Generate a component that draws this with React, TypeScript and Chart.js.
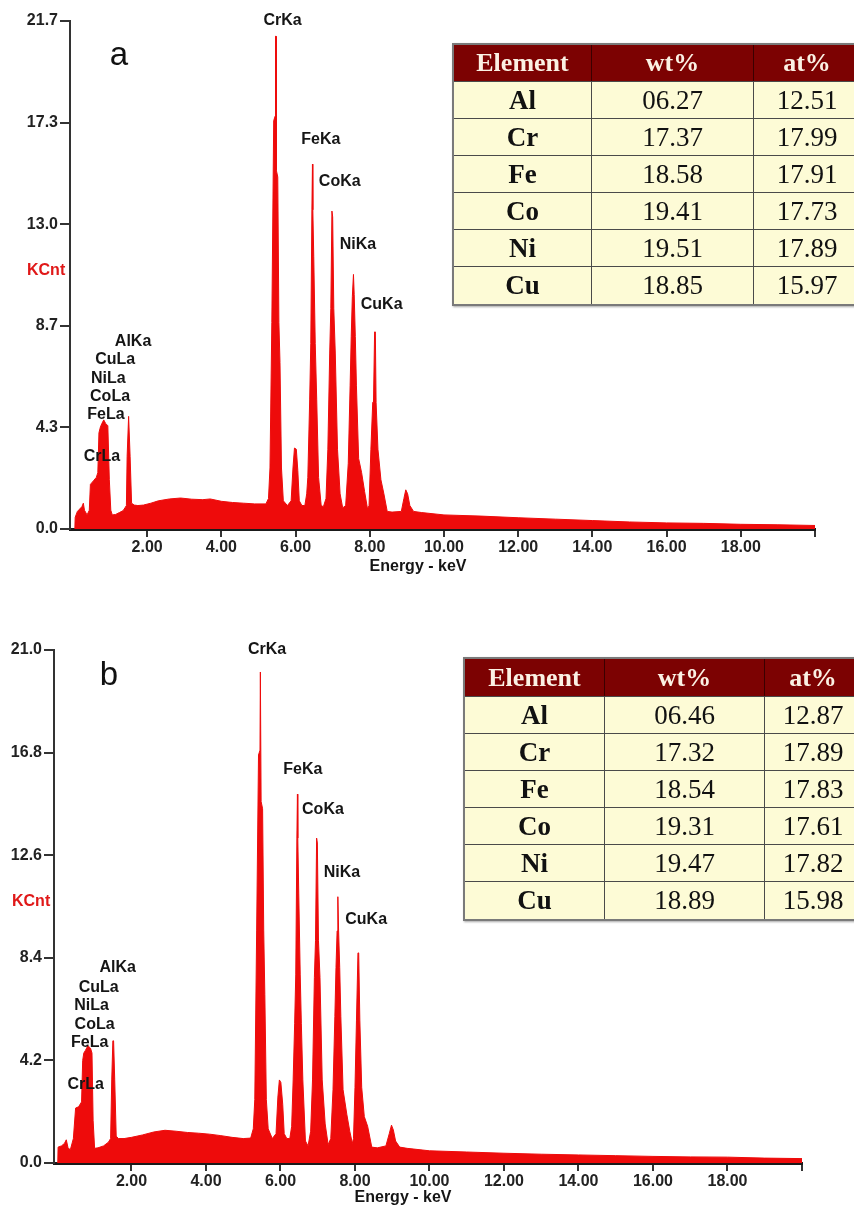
import React, { useEffect, useRef } from "react";
import { Chart, registerables } from "chart.js";

Chart.register(...registerables);

// ---------- Spectrum a ----------
const energyA = [
  0.05, 0.06, 0.12, 0.18, 0.24, 0.28, 0.31, 0.38, 0.44, 0.47, 0.55, 0.63, 0.67, 0.70, 0.74, 0.78, 0.83, 0.88,
  0.94, 0.98, 1.02, 1.06, 1.15, 1.25, 1.35, 1.40, 1.44, 1.46, 1.50, 1.51, 1.54, 1.58, 1.65, 1.75, 1.90, 2.10,
  2.30, 2.60, 2.90, 3.20, 3.50, 3.70, 4.00, 4.30, 4.60, 4.90, 5.20, 5.27, 5.31, 5.36, 5.41, 5.45, 5.46, 5.475,
  5.48, 5.52, 5.55, 5.58, 5.62, 5.67, 5.78, 5.88, 5.93, 5.97, 6.02, 6.06, 6.10, 6.17, 6.25, 6.30, 6.33, 6.38,
  6.41, 6.44, 6.455, 6.465, 6.49, 6.53, 6.57, 6.62, 6.69, 6.75, 6.82, 6.87, 6.92, 6.95, 6.98, 7.00, 7.03, 7.07,
  7.13, 7.20, 7.27, 7.35, 7.42, 7.47, 7.50, 7.53, 7.56, 7.58, 7.61, 7.64, 7.70, 7.78, 7.86, 7.94, 7.98, 8.03,
  8.08, 8.10, 8.13, 8.15, 8.17, 8.22, 8.30, 8.38, 8.47, 8.60, 8.85, 8.92, 8.97, 9.02, 9.08, 9.18, 9.40, 10.0,
  11.0, 12.0, 13.0, 14.0, 15.0, 16.0, 17.0, 18.0, 19.0, 20.0,
];
const countsA = [
  0.0, 0.5, 0.75, 0.85, 0.95, 1.1, 0.8, 0.6, 0.8, 1.9, 2.05, 2.2, 2.4, 4.1, 4.35, 4.5, 4.65, 4.5,
  4.4, 2.1, 0.8, 0.6, 0.62, 0.7, 0.78, 0.9, 1.0, 3.1, 4.8, 4.8, 3.1, 1.1, 1.02, 1.0, 1.02, 1.1,
  1.2, 1.28, 1.32, 1.27, 1.25, 1.28, 1.18, 1.13, 1.1, 1.07, 1.07, 1.3, 2.6, 8.8, 17.4, 17.6, 21.0, 21.0,
  15.3, 15.0, 8.8, 7.1, 2.6, 1.2, 1.0, 1.2, 2.6, 3.45, 3.4, 2.5, 1.2, 1.0, 1.0, 1.5, 2.2, 5.5,
  7.9, 13.6, 15.55, 13.6, 11.6, 7.9, 5.5, 2.2, 1.0, 0.95, 1.3, 3.4, 7.5, 9.4, 13.55, 13.3, 9.4, 7.5,
  3.4, 1.5, 0.9, 1.0, 2.8, 6.1, 8.2, 9.9, 10.85, 10.0, 8.2, 6.1, 3.0, 2.4, 1.6, 0.85, 1.0, 3.4,
  5.4, 5.4, 8.4, 8.4, 5.4, 3.4, 2.1, 1.5, 0.75, 0.72, 0.75, 1.3, 1.67, 1.5, 1.0, 0.75, 0.7, 0.6,
  0.55, 0.48, 0.42, 0.36, 0.3, 0.26, 0.24, 0.2, 0.18, 0.15,
];

// ---------- Spectrum b ----------
const energyB = [
  0.02, 0.03, 0.12, 0.20, 0.25, 0.30, 0.36, 0.44, 0.50, 0.58, 0.66, 0.69, 0.72, 0.76, 0.83, 0.90, 0.94,
  0.97, 1.01, 1.10, 1.25, 1.38, 1.44, 1.47, 1.50, 1.52, 1.55, 1.59, 1.65, 1.80, 2.00, 2.30, 2.60, 2.90,
  3.20, 3.50, 3.80, 4.10, 4.40, 4.70, 5.00, 5.20, 5.27, 5.31, 5.36, 5.41, 5.45, 5.46, 5.475, 5.48, 5.52,
  5.55, 5.58, 5.62, 5.67, 5.78, 5.88, 5.93, 5.97, 6.01, 6.06, 6.10, 6.17, 6.25, 6.30, 6.34, 6.38, 6.41,
  6.44, 6.455, 6.465, 6.49, 6.53, 6.56, 6.60, 6.67, 6.74, 6.81, 6.86, 6.91, 6.94, 6.97, 6.99, 7.02, 7.06,
  7.12, 7.20, 7.28, 7.35, 7.41, 7.46, 7.49, 7.52, 7.54, 7.56, 7.59, 7.62, 7.68, 7.78, 7.86, 7.93, 7.96,
  8.00, 8.04, 8.08, 8.10, 8.13, 8.18, 8.25, 8.34, 8.45, 8.60, 8.83, 8.92, 8.98, 9.03, 9.09, 9.20, 9.40,
  10.0, 11.0, 12.0, 13.0, 14.0, 15.0, 16.0, 17.0, 18.0, 19.0, 20.0,
];
const countsB = [
  0.0, 0.65, 0.7, 0.8, 0.95, 0.6, 0.55, 1.0, 2.25, 2.3, 2.5, 4.2, 4.5, 4.6, 4.8, 4.7, 4.5,
  1.75, 0.6, 0.62, 0.7, 0.85, 1.0, 3.4, 5.0, 5.0, 3.4, 1.1, 1.0, 1.0, 1.05, 1.15, 1.27, 1.34,
  1.3, 1.25, 1.22, 1.18, 1.12, 1.05, 1.0, 1.02, 1.4, 2.6, 9.5, 16.7, 16.9, 20.1, 20.1, 14.8, 14.5,
  9.5, 6.9, 2.6, 1.4, 1.0, 1.2, 2.7, 3.4, 3.3, 2.4, 1.2, 1.0, 1.0, 1.5, 3.4, 5.7, 7.7,
  13.3, 15.1, 13.3, 11.05, 7.7, 5.7, 3.4, 0.9, 0.7, 1.3, 3.4, 7.6, 9.1, 13.3, 13.1, 9.1, 7.6,
  3.4, 1.6, 0.75, 1.0, 3.0, 6.0, 8.0, 9.5, 10.9, 9.5, 8.0, 6.0, 3.0, 2.0, 1.3, 0.8, 1.0,
  3.1, 5.85, 8.6, 8.6, 5.85, 3.1, 1.9, 1.5, 0.65, 0.62, 0.7, 1.2, 1.55, 1.35, 0.9, 0.65, 0.6,
  0.5, 0.45, 0.4, 0.36, 0.33, 0.3, 0.27, 0.25, 0.24, 0.2, 0.18,
];

// ---------- Axes ----------
const yMaxA = 21.65;
const yMaxB = 21.0;
const yTickLabelsA = ["0.0", "4.3", "8.7", "13.0", "17.3", "21.7"];
const yTickLabelsB = ["0.0", "4.2", "8.4", "12.6", "16.8", "21.0"];
const xTickValues = [2, 4, 6, 8, 10, 12, 14, 16, 18, 20];
const xTickLabels = ["2.00", "4.00", "6.00", "8.00", "10.00", "12.00", "14.00", "16.00", "18.00", ""];

// ---------- Peak labels ----------
const peakNames = ["CrKa", "FeKa", "CoKa", "NiKa", "CuKa", "AlKa", "CuLa", "NiLa", "CoLa", "FeLa", "CrLa"];
const peakKevA = [5.65, 6.68, 7.19, 7.68, 8.32, 1.62, 1.14, 0.95, 1.0, 0.89, 0.78];
const peakCountA = [21.67, 16.6, 14.8, 12.1, 9.57, 7.99, 7.22, 6.41, 5.64, 4.87, 3.08];
const peakKevB = [5.64, 6.6, 7.14, 7.65, 8.3, 1.63, 1.12, 0.93, 1.01, 0.88, 0.77];
const peakCountB = [21.0, 16.1, 14.45, 11.9, 9.95, 7.98, 7.16, 6.43, 5.65, 4.91, 3.19];

// ---------- Tables ----------
const tableHeaders = ["Element", "wt%", "at%"];
const elements = ["Al", "Cr", "Fe", "Co", "Ni", "Cu"];
const wtA = ["06.27", "17.37", "18.58", "19.41", "19.51", "18.85"];
const atA = ["12.51", "17.99", "17.91", "17.73", "17.89", "15.97"];
const wtB = ["06.46", "17.32", "18.54", "19.31", "19.47", "18.89"];
const atB = ["12.87", "17.89", "17.83", "17.61", "17.82", "15.98"];

const RED = "#ee0b0b";
const SANS = '"Liberation Sans", Arial, Helvetica, sans-serif';
const SERIF = '"Liberation Serif", "Times New Roman", serif';

type Geo = {
  top: number;
  height: number;
  padTop: number;
  padRight: number;
  yAxisWidth: number;
  xAxisHeight: number;
  kcnt: [number, number];
  title: [number, number];
  letterPos: [number, number];
};

function Spectrum(props: {
  energy: number[];
  counts: number[];
  yMax: number;
  yTickLabels: string[];
  peakKev: number[];
  peakCount: number[];
  letter: string;
  geo: Geo;
}) {
  const ref = useRef<HTMLCanvasElement | null>(null);
  useEffect(() => {
    const { energy, counts, yMax, yTickLabels, peakKev, peakCount, letter, geo } = props;
    const annot = {
      id: "annot",
      afterDraw(chart: any) {
        const ctx = chart.ctx;
        const xs = chart.scales.x;
        const ys = chart.scales.y;
        ctx.save();
        ctx.fillStyle = "#151515";
        ctx.font = `bold 16px ${SANS}`;
        ctx.textAlign = "center";
        ctx.textBaseline = "middle";
        peakNames.forEach((n, i) => {
          ctx.fillText(n, xs.getPixelForValue(peakKev[i]), ys.getPixelForValue(peakCount[i]));
        });
        ctx.fillText("Energy - keV", geo.title[0], geo.title[1]);
        ctx.fillStyle = "#e01818";
        ctx.textAlign = "left";
        ctx.fillText("KCnt", geo.kcnt[0], geo.kcnt[1]);
        ctx.fillStyle = "#111";
        ctx.textAlign = "center";
        ctx.textBaseline = "alphabetic";
        ctx.font = `33px ${SANS}`;
        ctx.fillText(letter, geo.letterPos[0], geo.letterPos[1]);
        ctx.restore();
      },
    };
    const tickFont = { family: SANS, size: 16, weight: "bold" as const };
    const chart = new Chart(ref.current as HTMLCanvasElement, {
      type: "line",
      data: {
        datasets: [
          {
            data: energy.map((x, i) => ({ x, y: counts[i] })),
            borderColor: RED,
            backgroundColor: RED,
            borderWidth: 1,
            fill: "origin",
            pointRadius: 0,
            tension: 0,
          },
        ],
      },
      options: {
        responsive: false,
        maintainAspectRatio: false,
        animation: false,
        layout: { padding: { top: geo.padTop, right: geo.padRight, left: 0, bottom: 0 } },
        plugins: { legend: { display: false }, tooltip: { enabled: false } },
        scales: {
          x: {
            type: "linear",
            min: -0.08,
            max: 20,
            z: 1,
            afterBuildTicks: (s: any) => {
              s.ticks = xTickValues.map((v) => ({ value: v }));
            },
            afterFit: (s: any) => {
              s.height = geo.xAxisHeight;
            },
            ticks: {
              callback: (_v: any, i: number) => xTickLabels[i],
              font: tickFont,
              color: "#222",
              maxRotation: 0,
              autoSkip: false,
              padding: 1,
            },
            grid: { drawOnChartArea: false, drawTicks: true, tickLength: 8, color: "#333", lineWidth: 2 },
            border: { display: true, color: "#1a1a1a", width: 3 },
          },
          y: {
            type: "linear",
            min: 0,
            max: yMax,
            z: 1,
            afterBuildTicks: (s: any) => {
              s.ticks = yTickLabels.map((_l, i) => ({ value: (i * yMax) / 5 }));
            },
            afterFit: (s: any) => {
              s.width = geo.yAxisWidth;
            },
            ticks: {
              callback: (_v: any, i: number) => yTickLabels[i],
              font: tickFont,
              color: "#222",
              autoSkip: false,
              padding: 2,
            },
            grid: { drawOnChartArea: false, drawTicks: true, tickLength: 10, color: "#333", lineWidth: 2 },
            border: { display: true, color: "#333", width: 2 },
          },
        },
      } as any,
      plugins: [annot],
    });
    return () => chart.destroy();
  }, []);
  return (
    <canvas
      ref={ref}
      width={854}
      height={props.geo.height}
      style={{ position: "absolute", left: 0, top: props.geo.top, width: 854, height: props.geo.height }}
    />
  );
}

function CompTable(props: {
  left: number;
  top: number;
  colWidths: number[];
  headerH: number;
  rowH: number;
  wt: string[];
  at: string[];
}) {
  const { left, top, colWidths, headerH, rowH, wt, at } = props;
  const border = "1px solid #4a4a4a";
  const cell = (j: number, extra: any) => ({
    width: colWidths[j],
    boxSizing: "border-box" as const,
    borderRight: j < 2 ? border : "none",
    display: "flex",
    alignItems: "center",
    justifyContent: "center",
    ...extra,
  });
  return (
    <div
      style={{
        position: "absolute",
        left,
        top,
        width: colWidths[0] + colWidths[1] + colWidths[2],
        border: "2px solid #7a7a7a",
        boxShadow: "1px 1px 2px rgba(0,0,0,0.35)",
        fontFamily: SERIF,
        background: "#fdfbd6",
      }}
    >
      <div style={{ display: "flex", height: headerH, background: "#7c0202", borderBottom: border, boxSizing: "border-box" }}>
        {tableHeaders.map((h, j) => (
          <div key={h} style={cell(j, { color: "#fbf1e4", fontWeight: "bold", fontSize: 26, borderRight: j < 2 ? "1px solid #3a0000" : "none" })}>
            {h}
          </div>
        ))}
      </div>
      {elements.map((el, r) => (
        <div
          key={el}
          style={{ display: "flex", height: rowH, borderBottom: r < 5 ? border : "none", boxSizing: "border-box", color: "#111" }}
        >
          <div style={cell(0, { fontWeight: "bold", fontSize: 27 })}>{el}</div>
          <div style={cell(1, { fontSize: 27 })}>{wt[r]}</div>
          <div style={cell(2, { fontSize: 27 })}>{at[r]}</div>
        </div>
      ))}
    </div>
  );
}

const geoA: Geo = {
  top: 0,
  height: 590,
  padTop: 21,
  padRight: 39,
  yAxisWidth: 70,
  xAxisHeight: 61,
  kcnt: [27, 271],
  title: [418, 567],
  letterPos: [119, 65],
};
const geoB: Geo = {
  top: 600,
  height: 609,
  padTop: 50,
  padRight: 52,
  yAxisWidth: 54,
  xAxisHeight: 46,
  kcnt: [12, 302],
  title: [403, 598],
  letterPos: [109, 85],
};

export default function App() {
  return (
    <div
      style={{
        position: "absolute",
        left: 0,
        top: 0,
        width: 854,
        height: 1209,
        overflow: "hidden",
        background: "#fff",
      }}
    >
      <Spectrum
        energy={energyA}
        counts={countsA}
        yMax={yMaxA}
        yTickLabels={yTickLabelsA}
        peakKev={peakKevA}
        peakCount={peakCountA}
        letter="a"
        geo={geoA}
      />
      <Spectrum
        energy={energyB}
        counts={countsB}
        yMax={yMaxB}
        yTickLabels={yTickLabelsB}
        peakKev={peakKevB}
        peakCount={peakCountB}
        letter="b"
        geo={geoB}
      />
      <CompTable left={452} top={43} colWidths={[138, 162, 106]} headerH={37} rowH={37} wt={wtA} at={atA} />
      <CompTable left={463} top={657} colWidths={[140, 160, 96]} headerH={38} rowH={37} wt={wtB} at={atB} />
    </div>
  );
}
